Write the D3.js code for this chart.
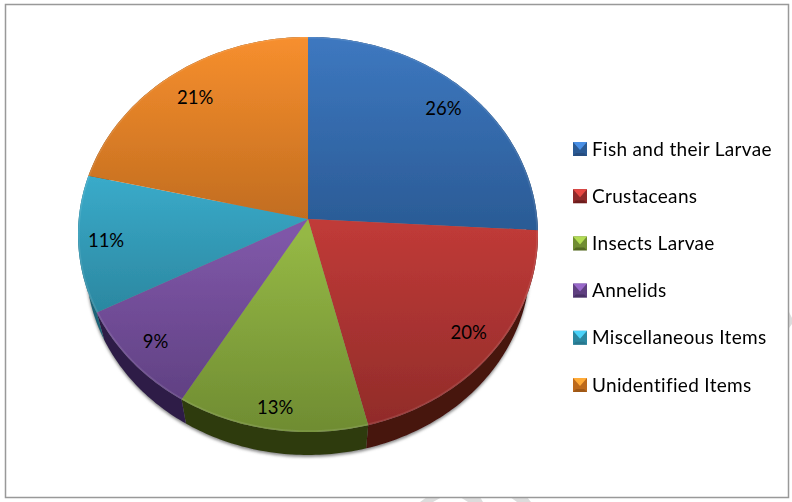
<!DOCTYPE html>
<html lang="en">
<head>
    <script src="https://d3js.org/d3.v7.min.js"></script>
    <style>
        html, body { margin: 0; padding: 0; background: #fff; }
        svg { display: block; }
        text { font-family: "Lato", "Open Sans", sans-serif; fill: #000; }
        .legend-label { font-size: 19px; letter-spacing: 0.32px; }
        .pct { font-size: 18.5px; text-anchor: middle; }
    </style>
</head>
<body>
    <div id="chart"></div>
    <script>
        const categories = ["Fish and their Larvae", "Crustaceans", "Insects Larvae", "Annelids", "Miscellaneous Items", "Unidentified Items"];
        // labels round these to 26 20 13 9 11 21
        const values = [25.9, 20.2, 12.5, 8.8, 11.2, 21.4];

        const width = 792;
        const height = 502;

        // top colour, bottom colour, wall colour per slice
        const topColors = ["#3d78c0", "#c23b38", "#95b845", "#7f57a8", "#3cb0d0", "#f78f2e"];
        const bottomColors = ["#2a5a94", "#8f2b29", "#6f8c32", "#5e3f80", "#2b87a0", "#bd6a1e"];
        const wallColors = ["#1e3f66", "#471210", "#2f3a10", "#2e1f47", "#1f6377", "#7a4310"];
        const labelRadius = [0.85, 0.87, 0.905, 0.87, 0.88, 0.83];

        const cx = 308, cy = 219;
        const persp = 0.0785;
        const A = 229.3, B = 196.3;
        const shrink = 0.965;

        // tilted disc: far side is squashed, so apex sits above the ellipse middle
        function project(angle, r = 1) {
            const s = Math.sin(angle), c = Math.cos(angle);
            const w = 1 + persp * r * c;
            return [cx + A * r * s / w, cy - B * r * c / w];
        }
        function projectLow(angle) {
            const s = Math.sin(angle), c = Math.cos(angle);
            const w = 1 + persp * c;
            return [cx + A * shrink * s / w, cy + 30.4 - B * shrink * c / w];
        }

        const arcs = d3.pie().sort(null).value(d => d)(values);
        const line = d3.line();

        function samples(a0, a1) {
            const n = Math.max(2, Math.ceil((a1 - a0) * 60));
            return d3.range(n + 1).map(i => a0 + (a1 - a0) * i / n);
        }

        const svg = d3.select("#chart").append("svg")
            .attr("width", width)
            .attr("height", height);

        const defs = svg.append("defs");
        arcs.forEach((d, i) => {
            const g = defs.append("linearGradient")
                .attr("id", "face" + i)
                .attr("gradientUnits", "userSpaceOnUse")
                .attr("x1", 0).attr("y1", 37).attr("x2", 0).attr("y2", 432);
            const t = i === 0 ? [0, 0.5] : i === 1 ? [0.45, 1] : i === 2 ? [0.5, 1] : i === 3 ? [0.5, 0.95] : i === 4 ? [0.3, 0.7] : [0, 0.5];
            g.append("stop").attr("offset", t[0]).attr("stop-color", topColors[i]);
            g.append("stop").attr("offset", t[1]).attr("stop-color", bottomColors[i]);
        });
        defs.append("filter").attr("id", "soft")
            .attr("x", "-10%").attr("y", "-10%").attr("width", "120%").attr("height", "120%")
            .append("feGaussianBlur").attr("stdDeviation", 1.6);
        defs.append("filter").attr("id", "slight")
            .attr("x", "-5%").attr("y", "-5%").attr("width", "110%").attr("height", "110%")
            .append("feGaussianBlur").attr("stdDeviation", 0.5);

        // watermark scraps showing outside the frame
        svg.append("g").attr("fill", "#dcdcdc").selectAll("path")
            .data(["M427 497H442L433 502H420Z", "M460 497H480L483 502H468Z", "M510 497H527L531 502H517Z", "M789 312L792 318V324L789 328Z"])
            .join("path").attr("d", d => d);

        // frame
        svg.append("rect")
            .attr("x", 5.5).attr("y", 4.5)
            .attr("width", 783).attr("height", 493)
            .attr("fill", "#fff").attr("stroke", "#999").attr("stroke-width", 1.5);

        // shadow under the wall
        const rim = samples(Math.PI * 0.45, Math.PI * 1.6);
        svg.append("path")
            .attr("d", line(rim.map(projectLow).map(p => [p[0], p[1] + 2])) + "Z")
            .attr("fill", "#888")
            .attr("filter", "url(#soft)");

        const pie3d = svg.append("g").attr("filter", "url(#slight)");

        // walls
        pie3d.append("g").selectAll("path")
            .data(arcs)
            .join("path")
            .attr("fill", (d, i) => wallColors[i])
            .attr("d", d => {
                const a = samples(d.startAngle, d.endAngle);
                return line(a.map(t => project(t)).concat(a.slice().reverse().map(projectLow))) + "Z";
            });

        // top faces
        pie3d.append("g").selectAll("path")
            .data(arcs)
            .join("path")
            .attr("fill", (d, i) => `url(#face${i})`)
            .attr("d", d => line([[cx, cy]].concat(samples(d.startAngle, d.endAngle).map(t => project(t)))) + "Z");

        // pale bevel along the rim
        pie3d.append("g").selectAll("path")
            .data(arcs)
            .join("path")
            .attr("fill", "none")
            .attr("stroke", "#fff")
            .attr("stroke-opacity", 0.1)
            .attr("stroke-width", 1.5)
            .attr("d", d => line(samples(d.startAngle, d.endAngle).map(t => project(t, 0.996))));

        // percent labels
        svg.append("g").selectAll("text")
            .data(arcs)
            .join("text")
            .attr("class", "pct")
            .attr("x", (d, i) => project((d.startAngle + d.endAngle) / 2, labelRadius[i])[0])
            .attr("y", (d, i) => project((d.startAngle + d.endAngle) / 2, labelRadius[i])[1] + 6)
            .text(d => Math.round(d.value) + "%");

        // legend, pyramid style keys
        const rowY = d3.scalePoint().domain(categories).range([149, 385]);
        const rows = svg.append("g").attr("filter", "url(#slight)").selectAll("g")
            .data(categories)
            .join("g")
            .attr("transform", d => `translate(573,${rowY(d)})`);
        rows.append("rect")
            .attr("x", 0).attr("y", -7).attr("width", 14).attr("height", 14)
            .attr("fill", (d, i) => bottomColors[i]);
        rows.append("path")
            .attr("d", "M0 -7H14L7 1Z")
            .attr("fill", (d, i) => d3.color(topColors[i]).brighter(0.5));
        rows.append("path")
            .attr("d", "M0 7H14L11 4H3Z")
            .attr("fill", (d, i) => wallColors[i])
            .attr("opacity", 0.45);
        rows.append("text")
            .attr("class", "legend-label")
            .attr("x", 19).attr("y", 6.5)
            .text(d => d);
    </script>
</body>
</html>
